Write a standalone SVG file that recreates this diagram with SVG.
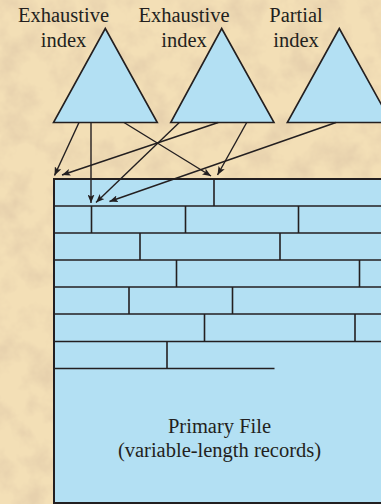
<svg xmlns="http://www.w3.org/2000/svg" width="381" height="504" viewBox="0 0 381 504">
  <style>
    .lbl { font-family: "Liberation Serif", "Times New Roman", serif; font-size: 20.5px; fill: #231F20; text-anchor: middle; }
    .tri { fill: #B3E0F3; stroke: #231F20; stroke-width: 1.6; stroke-linejoin: miter; }
    .file { fill: #B3E0F3; stroke: #231F20; stroke-width: 2; }
    .rec { stroke: #231F20; stroke-width: 1.6; fill: none; }
    .arr { stroke: #231F20; stroke-width: 1.4; fill: none; marker-end: url(#ah); }
  </style>
  <defs>
    <marker id="ah" markerUnits="userSpaceOnUse" markerWidth="9" markerHeight="7" refX="8.5" refY="3.5" orient="auto">
      <path d="M0,0 L8.5,3.5 L0,7 L2,3.5 z" fill="#231F20"/>
    </marker>
    <filter id="tex" x="0" y="0" width="100%" height="100%">
      <feTurbulence type="fractalNoise" baseFrequency="0.035" numOctaves="4" seed="7"/>
      <feColorMatrix type="matrix" values="0 0 0 0 0.80  0 0 0 0 0.64  0 0 0 0 0.42  2.6 0 0 0 -1.05"/>
    </filter>
  </defs>

  <g id="background">
    <rect x="0" y="0" width="381" height="504" fill="#F3DFB6"/>
    <rect x="0" y="0" width="381" height="504" filter="url(#tex)"/>
  </g>

  <g id="index-exhaustive-1">
    <polygon class="tri" points="105.3,28.5 53.5,122.5 157.3,122.5"/>
    <text class="lbl" x="63.5" y="22">Exhaustive</text>
    <text class="lbl" x="63.5" y="46.7">index</text>
  </g>
  <g id="index-exhaustive-2">
    <polygon class="tri" points="221.7,28.5 170.7,122.5 274,122.5"/>
    <text class="lbl" x="184" y="22">Exhaustive</text>
    <text class="lbl" x="184" y="46.7">index</text>
  </g>
  <g id="index-partial">
    <polygon class="tri" points="339.3,28.5 287.3,122.5 391.3,122.5"/>
    <text class="lbl" x="296" y="22">Partial</text>
    <text class="lbl" x="296" y="46.7">index</text>
  </g>

  <g id="primary-file">
    <rect class="file" x="54" y="179" width="400" height="324"/>
    <g class="rec">
      <line x1="54" y1="206" x2="390" y2="206"/>
      <line x1="54" y1="233" x2="390" y2="233"/>
      <line x1="54" y1="260" x2="390" y2="260"/>
      <line x1="54" y1="287" x2="390" y2="287"/>
      <line x1="54" y1="314" x2="390" y2="314"/>
      <line x1="54" y1="341.5" x2="390" y2="341.5"/>
      <line x1="54" y1="368.5" x2="274.5" y2="368.5"/>
      <line x1="214" y1="179" x2="214" y2="206"/>
      <line x1="91.5" y1="206" x2="91.5" y2="233"/>
      <line x1="185.5" y1="206" x2="185.5" y2="233"/>
      <line x1="298.5" y1="206" x2="298.5" y2="233"/>
      <line x1="140" y1="233" x2="140" y2="260"/>
      <line x1="280" y1="233" x2="280" y2="260"/>
      <line x1="176.5" y1="260" x2="176.5" y2="287"/>
      <line x1="359.5" y1="260" x2="359.5" y2="287"/>
      <line x1="129" y1="287" x2="129" y2="314"/>
      <line x1="232.5" y1="287" x2="232.5" y2="314"/>
      <line x1="204.5" y1="314" x2="204.5" y2="341.5"/>
      <line x1="355" y1="314" x2="355" y2="341.5"/>
      <line x1="167" y1="341.5" x2="167" y2="368.5"/>
    </g>
    <text class="lbl" x="219.5" y="433.3">Primary File</text>
    <text class="lbl" x="219.5" y="457">(variable-length records)</text>
  </g>

  <g id="connectors">
    <line class="arr" x1="79" y1="122.5" x2="54.5" y2="175.5"/>
    <line class="arr" x1="91" y1="122.5" x2="91" y2="203"/>
    <line class="arr" x1="124" y1="122.5" x2="211" y2="176"/>
    <line class="arr" x1="179.3" y1="122.5" x2="96" y2="202.5"/>
    <line class="arr" x1="218.3" y1="122.5" x2="62" y2="175"/>
    <line class="arr" x1="246.7" y1="122.5" x2="217.5" y2="175"/>
    <line class="arr" x1="336" y1="122.5" x2="109.5" y2="201.5"/>
  </g>
</svg>
